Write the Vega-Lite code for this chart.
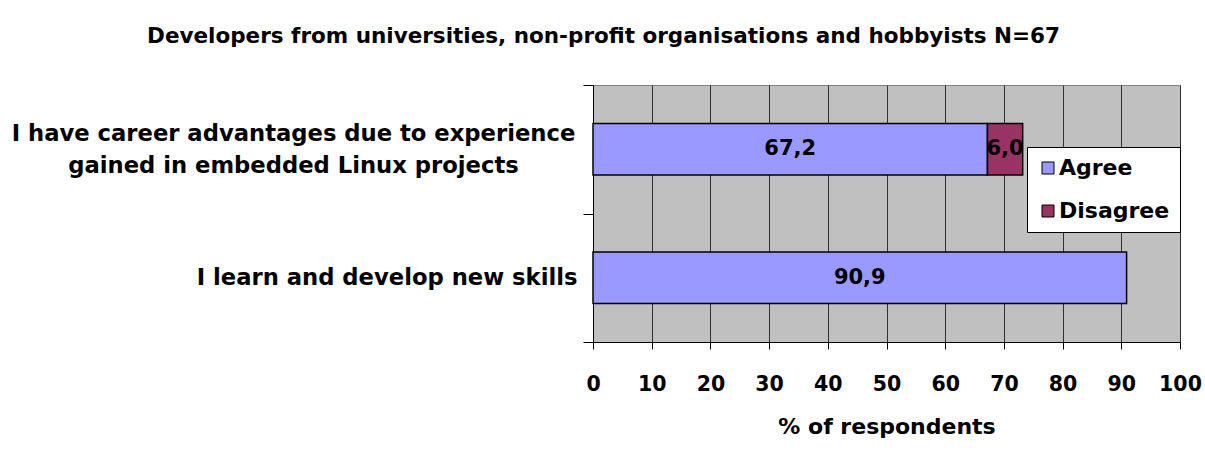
{
  "$schema": "https://vega.github.io/schema/vega-lite/v6.json",
  "width": 587,
  "height": 257,
  "autosize": {"type": "none"},
  "padding": {"left": 593, "top": 85, "right": 25, "bottom": 117},
  "background": "white",
  "title": {
    "text": "Developers from universities, non-profit organisations and hobbyists N=67",
    "font": "DejaVu Sans",
    "fontWeight": "bold",
    "fontSize": 21.5,
    "color": "black",
    "anchor": "middle",
    "frame": "group",
    "dx": -283,
    "baseline": "middle",
    "offset": 16
  },
  "data": {
    "values": [
      {"cat": "I have career advantages due to experience|gained in embedded Linux projects", "resp": "Agree", "pct": 67.2},
      {"cat": "I have career advantages due to experience|gained in embedded Linux projects", "resp": "Disagree", "pct": 6.0},
      {"cat": "I learn and develop new skills", "resp": "Agree", "pct": 90.9}
    ]
  },
  "encoding": {
    "y": {
      "field": "cat",
      "type": "nominal",
      "sort": null,
      "scale": {"paddingInner": 0, "paddingOuter": 0},
      "axis": {
        "title": null,
        "labelExpr": "split(datum.label, '|')",
        "labelFont": "DejaVu Sans",
        "labelFontWeight": "bold",
        "labelFontSize": 22.7,
        "labelColor": "black",
        "labelLineHeight": 32,
        "labelLimit": 0,
        "labelBaseline": "middle",
        "labelAlign": {"condition": {"test": "datum.value == 'I learn and develop new skills'", "value": "right"}, "value": "center"},
        "labelPadding": {"condition": {"test": "datum.value == 'I learn and develop new skills'", "value": 6}, "value": 290},
        "labelOffset": {"condition": {"test": "datum.value == 'I learn and develop new skills'", "value": 0}, "value": -16},
        "tickBand": "extent",
        "tickSize": 10,
        "tickColor": "black",
        "domainColor": "black",
        "grid": false
      }
    }
  },
  "layer": [
    {
      "mark": {"type": "bar", "stroke": "black", "strokeWidth": 1.5, "height": {"band": 0.4}},
      "encoding": {
        "x": {
          "field": "pct",
          "type": "quantitative",
          "stack": "zero",
          "scale": {"domain": [0, 100], "nice": false},
          "axis": {
            "title": "% of respondents",
            "values": [0, 10, 20, 30, 40, 50, 60, 70, 80, 90, 100],
            "format": "d",
            "grid": true,
            "gridColor": "#303030",
            "gridWidth": 1,
            "tickSize": 7,
            "tickColor": "black",
            "domainColor": "black",
            "labelFont": "DejaVu Sans",
            "labelFontWeight": "bold",
            "labelFontSize": 20.5,
            "labelColor": "black",
            "labelPadding": 25,
            "labelFlush": false,
            "titleFont": "DejaVu Sans",
            "titleFontWeight": "bold",
            "titleFontSize": 22,
            "titleColor": "black",
            "titlePadding": 22
          }
        },
        "color": {
          "field": "resp",
          "type": "nominal",
          "scale": {"domain": ["Agree", "Disagree"], "range": ["#9999FF", "#993366"]},
          "legend": {
            "title": null,
            "orient": "none",
            "legendX": 434,
            "legendY": 62,
            "fillColor": "white",
            "strokeColor": "black",
            "padding": 10,
            "labelFont": "DejaVu Sans",
            "labelFontWeight": "bold",
            "labelFontSize": 22,
            "labelColor": "black",
            "symbolType": "square",
            "symbolSize": 144,
            "symbolStrokeColor": "black",
            "symbolStrokeWidth": 1,
            "symbolOpacity": 1,
            "rowPadding": 21,
            "labelOffset": 0
          }
        },
        "order": {"field": "resp", "type": "nominal", "sort": "ascending"}
      }
    },
    {
      "mark": {"type": "text", "font": "DejaVu Sans", "fontWeight": "bold", "fontSize": 21, "color": "black", "baseline": "middle", "align": "center"},
      "encoding": {
        "x": {"field": "pct", "type": "quantitative", "stack": "zero", "bandPosition": 0.5},
        "detail": {"field": "resp", "type": "nominal"},
        "order": {"field": "resp", "type": "nominal", "sort": "ascending"},
        "text": {"field": "pct", "type": "quantitative", "format": ".1f"}
      }
    }
  ],
  "config": {
    "locale": {"number": {"decimal": ",", "thousands": ".", "grouping": [3], "currency": ["", " €"]}},
    "view": {"fill": "#C0C0C0", "stroke": "#808080", "strokeWidth": 1}
  }
}
